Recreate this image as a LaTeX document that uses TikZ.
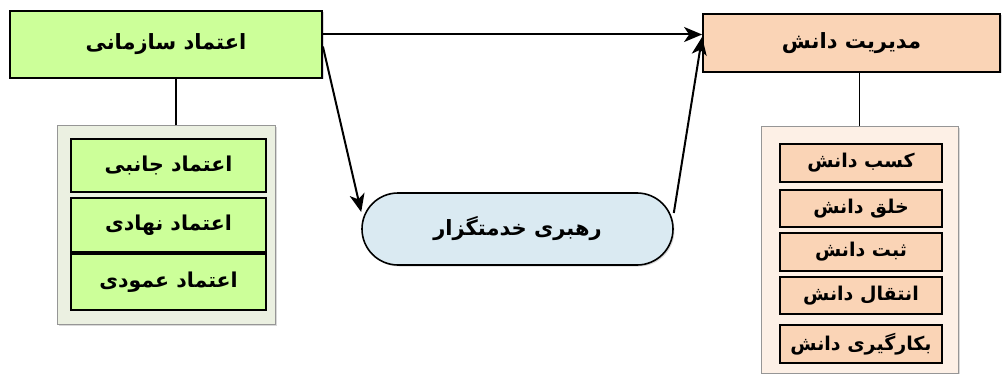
\documentclass[tikz,border=0pt]{standalone}
\usepackage{fontspec}
\usepackage{tikz}
\usetikzlibrary{arrows.meta,positioning,calc,shadows,shapes.misc}
\TeXXeTstate=1
\newfontfamily\farsifont[Script=Arabic]{DejaVu Sans}
\definecolor{trustgreen}{RGB}{204,255,153}
\definecolor{trustbg}{RGB}{235,240,225}
\definecolor{kmpeach}{RGB}{250,212,182}
\definecolor{kmbg}{RGB}{253,240,230}
\definecolor{leaderblue}{RGB}{218,234,242}
\definecolor{groupborder}{RGB}{150,150,150}
\newcommand{\fatext}[1]{\farsifont\bfseries\beginR #1\endR}

\begin{document}
\begin{tikzpicture}[x=1pt, y=-1pt,
  headbox/.style={draw=black, line width=1.8pt, rectangle, inner sep=0pt, font=\fontsize{21}{24}\selectfont, drop shadow={opacity=0.3, shadow xshift=1.5pt, shadow yshift=-1.5pt}},
  groupbox/.style={draw=groupborder, line width=1pt, rectangle, inner sep=0pt, drop shadow={opacity=0.3, shadow xshift=1.5pt, shadow yshift=-1.5pt}},
  itembox/.style={draw=black, line width=1.6pt, rectangle, inner sep=0pt, font=\fontsize{20.5}{23}\selectfont},
  smallitem/.style={itembox, fill=kmpeach, minimum width=162, font=\fontsize{19}{22}\selectfont},
  leaderbox/.style={draw=black, line width=1.6pt, rounded rectangle, inner sep=0pt, fill=leaderblue, font=\fontsize{21}{24}\selectfont, drop shadow={opacity=0.3, shadow xshift=1.5pt, shadow yshift=-1.5pt}},
  link/.style={-{Stealth[length=18pt, width=15pt, inset=5pt]}, line width=2pt},
  tie/.style={line width=1.2pt}
]
\useasboundingbox (0,0) rectangle (1008,374);

% Organisational trust
\node[headbox, fill=trustgreen, minimum width=312, minimum height=67] (orgtrust) at (166,44.5) {\fatext{اعتماد سازمانی}};
\node[groupbox, fill=trustbg, minimum width=218, minimum height=198] (trustgroup) at (166,225) {};
\node[itembox, fill=trustgreen, minimum width=195, minimum height=53] (lateral) at (168.5,165.5) {\fatext{اعتماد جانبی}};
\node[itembox, fill=trustgreen, minimum width=195, minimum height=54] (institutional) at (168.5,225) {\fatext{اعتماد نهادی}};
\node[itembox, fill=trustgreen, minimum width=195, minimum height=56] (vertical) at (168.5,282) {\fatext{اعتماد عمودی}};

% Knowledge management
\node[headbox, fill=kmpeach, minimum width=297, minimum height=58] (km) at (851.5,43) {\fatext{مدیریت دانش}};
\node[groupbox, fill=kmbg, minimum width=197, minimum height=246] (kmgroup) at (859.5,250) {};
\node[smallitem, minimum height=38] (acquire) at (861,163) {\fatext{کسب دانش}};
\node[smallitem, minimum height=37] (create) at (861,208.5) {\fatext{خلق دانش}};
\node[smallitem, minimum height=38] (record) at (861,252) {\fatext{ثبت دانش}};
\node[smallitem, minimum height=37] (transfer) at (861,295.5) {\fatext{انتقال دانش}};
\node[smallitem, minimum height=38] (apply) at (861,344) {\fatext{بکارگیری دانش}};

% Servant leadership
\node[leaderbox, minimum width=311, minimum height=72] (servant) at (517.5,229) {\fatext{رهبری خدمتگزار}};

% Connectors
\draw[tie] ([xshift=10pt]trustgroup.north) -- ([xshift=10pt]trustgroup.north |- orgtrust.south);
\draw[tie] (kmgroup.north) -- (kmgroup.north |- km.south);
\draw[link] ([yshift=10pt]orgtrust.east) -- ([yshift=10pt]orgtrust.east -| km.west);
\draw[link] ([yshift=-2pt]orgtrust.east) -- ([yshift=17pt]servant.west);
\draw[link] ([yshift=16pt]servant.east) -- ([yshift=6pt]km.west);

\end{tikzpicture}
\end{document}
